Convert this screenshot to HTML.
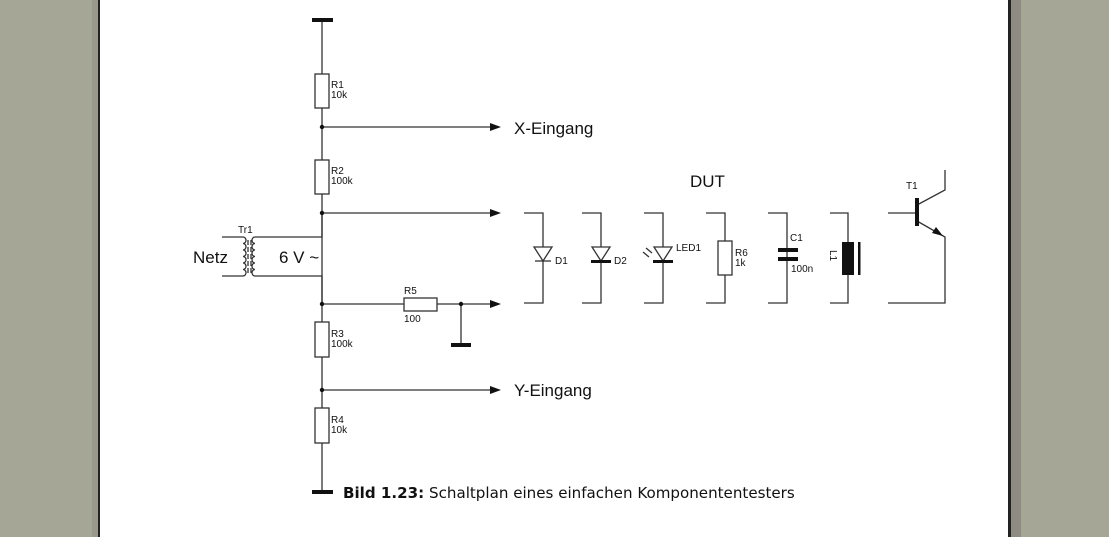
<!DOCTYPE html>
<html><head><meta charset="utf-8"><style>
html,body{margin:0;padding:0;width:1109px;height:537px;overflow:hidden;background:#a6a696;}
svg{position:absolute;left:0;top:0;}
text{font-family:"Liberation Sans",sans-serif;fill:#111;}
</style></head><body>
<svg width="1109" height="537" viewBox="0 0 1109 537">
<rect x="92" y="0" width="8" height="537" fill="#9a988c"/>
<rect x="98" y="0" width="2" height="537" fill="#222"/>
<rect x="100" y="0" width="908" height="537" fill="#fff"/>
<rect x="1008" y="0" width="3" height="537" fill="#222"/>
<rect x="1011" y="0" width="10" height="537" fill="#8e8c82"/>
<g stroke="#333" stroke-width="1.3" fill="none">
<line x1="322" y1="20" x2="322" y2="492"/>
<line x1="322" y1="127" x2="492" y2="127"/>
<line x1="322" y1="213" x2="492" y2="213"/>
<line x1="322" y1="304" x2="492" y2="304"/>
<line x1="322" y1="390" x2="492" y2="390"/>
<polyline points="322,213 322,237 255,237"/>
<polyline points="322,304 322,276 255,276"/>
<line x1="222" y1="237" x2="243" y2="237"/>
<line x1="222" y1="276" x2="243" y2="276"/>
<line x1="461" y1="304" x2="461" y2="344"/>
<path d="M243,237 a3,3.25 0 0 1 0,6.5 a3,3.25 0 0 1 0,6.5 a3,3.25 0 0 1 0,6.5 a3,3.25 0 0 1 0,6.5 a3,3.25 0 0 1 0,6.5 a3,3.25 0 0 1 0,6.5"/>
<path d="M255,237 a3,3.25 0 0 0 0,6.5 a3,3.25 0 0 0 0,6.5 a3,3.25 0 0 0 0,6.5 a3,3.25 0 0 0 0,6.5 a3,3.25 0 0 0 0,6.5 a3,3.25 0 0 0 0,6.5"/>
<line x1="248" y1="240" x2="248" y2="274" stroke-dasharray="5,2"/>
<line x1="251" y1="240" x2="251" y2="274" stroke-dasharray="5,2"/>
<polyline points="524,213 543,213 543,303 524,303"/>
<polyline points="582,213 601,213 601,303 582,303"/>
<polyline points="644,213 663,213 663,303 644,303"/>
<polyline points="706,213 725,213 725,303 706,303"/>
<polyline points="768,213 787,213 787,303 768,303"/>
<polyline points="830,213 848,213 848,303 830,303"/>
<polyline points="888,213 917,213"/>
<polyline points="917,205 945,190 945,170"/>
<polyline points="917,221 945,237 945,303 888,303"/>
<polygon points="534,247 552,247 543,261" fill="#fff"/>
<polygon points="592,247 610,247 601,261" fill="#fff"/>
<polygon points="654,247 672,247 663,261" fill="#fff"/>
<line x1="535" y1="261" x2="551" y2="261"/>
<line x1="646" y1="248" x2="652" y2="253"/><line x1="643" y1="252" x2="649" y2="257"/>
</g>
<g fill="#fff" stroke="#333" stroke-width="1.3">
<rect x="315" y="74" width="14" height="34"/>
<rect x="315" y="160" width="14" height="34"/>
<rect x="315" y="322" width="14" height="35"/>
<rect x="315" y="408" width="14" height="35"/>
<rect x="404" y="298" width="33" height="13"/>
<rect x="718" y="241" width="14" height="34"/>
</g>
<g fill="#111">
<rect x="312" y="18" width="21" height="4"/>
<rect x="312" y="490" width="21" height="4"/>
<rect x="451" y="343" width="20" height="4"/>
<circle cx="322" cy="127" r="2.2"/><circle cx="322" cy="213" r="2.2"/>
<circle cx="322" cy="304" r="2.2"/><circle cx="322" cy="390" r="2.2"/>
<circle cx="461" cy="304" r="2.2"/>
<polygon points="490,123 501,127 490,131"/><polygon points="490,209 501,213 490,217"/>
<polygon points="490,300 501,304 490,308"/><polygon points="490,386 501,390 490,394"/>
<rect x="591" y="260" width="20" height="3"/>
<rect x="653" y="260" width="20" height="3"/>
<rect x="778" y="248" width="20" height="4"/>
<rect x="778" y="257" width="20" height="4"/>
<rect x="842" y="242" width="12" height="33"/>
<rect x="858" y="242" width="2.5" height="33"/>
<rect x="915" y="198" width="4" height="28"/>
<polygon points="943,236 932,233 936,227"/>
</g>
<g font-size="10">
<text x="331" y="88">R1</text><text x="331" y="98">10k</text>
<text x="331" y="174">R2</text><text x="331" y="184">100k</text>
<text x="331" y="337">R3</text><text x="331" y="347">100k</text>
<text x="331" y="423">R4</text><text x="331" y="433">10k</text>
<text x="404" y="294">R5</text><text x="404" y="322">100</text>
<text x="238" y="233">Tr1</text>
<text x="555" y="264">D1</text><text x="614" y="264">D2</text>
<text x="676" y="251">LED1</text>
<text x="735" y="256">R6</text><text x="735" y="266">1k</text>
<text x="790" y="241">C1</text><text x="791" y="272">100n</text>
<text x="906" y="189">T1</text>
<text x="826" y="254" transform="rotate(90 830 254)">L1</text>
</g>
<g font-size="17">
<text x="514" y="134">X-Eingang</text>
<text x="514" y="396">Y-Eingang</text>
<text x="690" y="187">DUT</text>
<text x="193" y="263">Netz</text>
<text x="279" y="263">6 V ~</text>
<text x="343" y="498" font-size="15.1" style="font-family:'DejaVu Sans',sans-serif"><tspan font-weight="bold">Bild 1.23:</tspan> Schaltplan eines einfachen Komponententesters</text>
</g>
</svg>
</body></html>
